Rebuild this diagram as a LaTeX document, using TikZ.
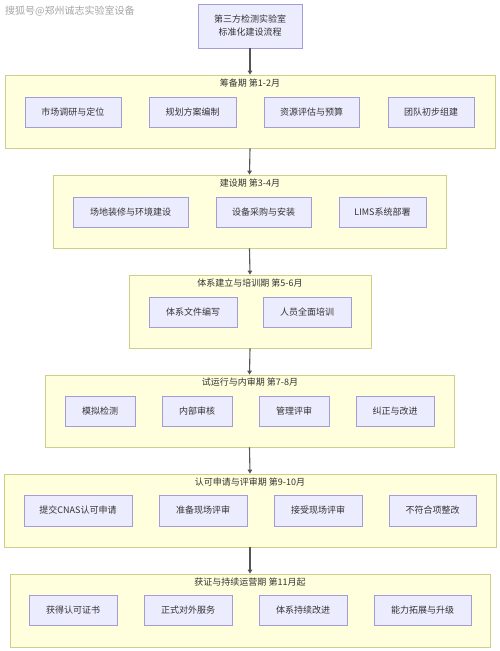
\documentclass[tikz,border=0pt]{standalone}
\usepackage{fontspec}
\setmainfont{Noto Sans CJK SC}
\usetikzlibrary{arrows.meta}
\definecolor{grpfill}{HTML}{FFFFDE}
\definecolor{grpdraw}{HTML}{CFCF8A}
\definecolor{boxfill}{HTML}{ECECFF}
\definecolor{boxdraw}{HTML}{A49CD6}
\definecolor{txt}{HTML}{333333}
\definecolor{edge}{HTML}{555555}
\tikzset{
  grp/.style={draw=grpdraw, fill=grpfill, line width=0.8pt, inner sep=0pt},
  stepbox/.style={draw=boxdraw, fill=boxfill, line width=0.8pt, inner sep=0pt, text=txt, font=\fontsize{9}{11}\selectfont},
  grptitle/.style={text=txt, font=\fontsize{9}{11}\selectfont, inner sep=0pt},
  flow/.style={draw=edge, line width=1.1pt, -{Triangle[length=4pt,width=4.5pt]}},
}
\newcommand\bx[7]{% name, x1, x2, y1, y2, style, text
  \node[#6, minimum width={#3-#2}, minimum height={#5-#4}] (#1) at ({(#2+#3)/2},{(#4+#5)/2}) {#7};}
\begin{document}
\begin{tikzpicture}[x=1pt,y=-1pt]
\useasboundingbox[fill=white] (0,0) rectangle (500,651);
% watermark
\node[anchor=west, text=black!35, font=\fontsize{10}{12}\selectfont, inner sep=0pt] (wm) at (5,11) {搜狐号@郑州诚志实验室设备};
% top
\node[stepbox, minimum width=104, minimum height=44, align=center] (top) at (250,26) {第三方检测实验室\\[2pt]标准化建设流程};
% group 1
\bx{g1}{5}{495}{75}{148}{grp}{}
\node[grptitle] (t1) at (250,83) {筹备期 第1-2月};
\bx{a1}{25}{121}{97}{127}{stepbox}{市场调研与定位}
\bx{a2}{149}{236}{97}{127}{stepbox}{规划方案编制}
\bx{a3}{264}{359}{97}{127}{stepbox}{资源评估与预算}
\bx{a4}{388}{474}{97}{127}{stepbox}{团队初步组建}
% group 2
\bx{g2}{53}{446}{175}{248}{grp}{}
\node[grptitle] (t2) at (250,183) {建设期 第3-4月};
\bx{b1}{73}{188}{197}{227}{stepbox}{场地装修与环境建设}
\bx{b2}{216}{311}{197}{227}{stepbox}{设备采购与安装}
\bx{b3}{339}{426}{197}{227}{stepbox}{LIMS系统部署}
% group 3
\bx{g3}{129}{371}{275}{348}{grp}{}
\node[grptitle] (t3) at (250,283) {体系建立与培训期 第5-6月};
\bx{c1}{149}{237}{297}{327}{stepbox}{体系文件编写}
\bx{c2}{263}{351}{297}{327}{stepbox}{人员全面培训}
% group 4
\bx{g4}{45}{454}{375}{447}{grp}{}
\node[grptitle] (t4) at (250,382) {试运行与内审期 第7-8月};
\bx{d1}{65}{135}{396}{426}{stepbox}{模拟检测}
\bx{d2}{162}{232}{396}{426}{stepbox}{内部审核}
\bx{d3}{259}{329}{396}{426}{stepbox}{管理评审}
\bx{d4}{356}{434}{396}{426}{stepbox}{纠正与改进}
% group 5
\bx{g5}{4}{496}{474}{547}{grp}{}
\node[grptitle] (t5) at (250,482) {认可申请与评审期 第9-10月};
\bx{e1}{24}{132}{495}{526}{stepbox}{提交CNAS认可申请}
\bx{e2}{159}{247}{495}{526}{stepbox}{准备现场评审}
\bx{e3}{274}{362}{495}{526}{stepbox}{接受现场评审}
\bx{e4}{389}{476}{495}{526}{stepbox}{不符合项整改}
% group 6
\bx{g6}{10}{490}{574}{647}{grp}{}
\node[grptitle] (t6) at (250,582) {获证与持续运营期 第11月起};
\bx{f1}{29}{117}{595}{625}{stepbox}{获得认可证书}
\bx{f2}{144}{232}{595}{625}{stepbox}{正式对外服务}
\bx{f3}{259}{347}{595}{625}{stepbox}{体系持续改进}
\bx{f4}{374}{471}{595}{625}{stepbox}{能力拓展与升级}
% connectors
\draw[flow] (top.south) -- (g1.north);
\draw[flow] (g1.south) -- (g2.north);
\draw[flow] (g2.south) -- (g3.north);
\draw[flow] (g3.south) -- (g4.north);
\draw[flow] (g4.south) -- (g5.north);
\draw[flow] (g5.south) -- (g6.north);
\end{tikzpicture}
\end{document}
